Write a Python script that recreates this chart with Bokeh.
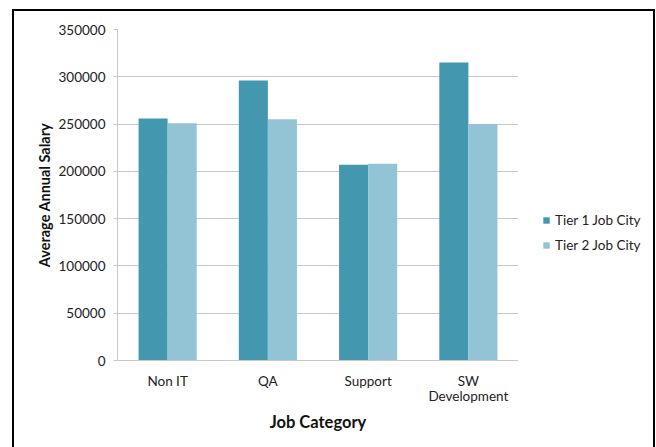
from bokeh.plotting import figure
from bokeh.layouts import row
from bokeh.models import (ColumnDataSource, FactorRange, Range1d, Legend, LegendItem,
                          BasicTickFormatter, FixedTicker, InlineStyleSheet)
from bokeh.transform import dodge
from bokeh.embed import file_html
from bokeh.resources import INLINE

categories = ["Non IT", "QA", "Support", "SW\nDevelopment"]
tier1 = [256000, 296000, 207000, 315000]
tier2 = [251000, 255000, 208000, 250000]
series_names = ["Tier 1 Job City", "Tier 2 Job City"]
y_ticks = [0, 50000, 100000, 150000, 200000, 250000, 300000, 350000]

FONT = "Lato"
C1 = "#4398AF"
C2 = "#93C4D6"

src = ColumnDataSource(dict(cat=categories, t1=tier1, t2=tier2))

p = figure(x_range=FactorRange(*categories), y_range=Range1d(0, 350000),
           width=518, height=447, output_backend="svg", toolbar_location=None,
           min_border_left=117, min_border_right=0, min_border_top=29, min_border_bottom=87)

p.vbar(x=dodge("cat", -0.145, range=p.x_range), top="t1", width=0.29, source=src,
       fill_color=C1, line_color=None)
p.vbar(x=dodge("cat", 0.145, range=p.x_range), top="t2", width=0.29, source=src,
       fill_color=C2, line_color=None)

p.outline_line_color = None
p.xgrid.grid_line_color = None
p.ygrid.grid_line_color = "#c8c8c8"
p.ygrid.grid_line_width = 1

p.yaxis.ticker = FixedTicker(ticks=y_ticks)
p.yaxis.formatter = BasicTickFormatter(use_scientific=False)
p.yaxis.axis_line_color = "#c8c8c8"
p.yaxis.major_tick_line_color = "#c8c8c8"
p.yaxis.major_tick_out = 4
p.yaxis.major_tick_in = 0
p.yaxis.minor_tick_line_color = None
p.yaxis.major_label_standoff = 8
p.yaxis.major_label_text_font = FONT
p.yaxis.major_label_text_font_size = "13.5px"
p.yaxis.major_label_text_color = "#222222"
p.yaxis.axis_label = "Average Annual Salary"
p.yaxis.axis_label_text_font = FONT
p.yaxis.axis_label_text_font_size = "14.5px"
p.yaxis.axis_label_text_font_style = "bold"
p.yaxis.axis_label_text_color = "#111111"
p.yaxis.axis_label_standoff = 3

p.xaxis.axis_line_color = "#c8c8c8"
p.xaxis.major_tick_line_color = None
p.xaxis.minor_tick_line_color = None
p.xaxis.major_label_standoff = 6
p.xaxis.major_label_text_font = FONT
p.xaxis.major_label_text_font_size = "13.5px"
p.xaxis.major_label_text_line_height = 0.95
p.xaxis.major_label_text_color = "#222222"
p.xaxis.axis_label = "Job Category"
p.xaxis.axis_label_text_font = FONT
p.xaxis.axis_label_text_font_size = "16.5px"
p.xaxis.axis_label_text_font_style = "bold"
p.xaxis.axis_label_text_color = "#111111"
p.xaxis.axis_label_standoff = 5

p.stylesheets = [InlineStyleSheet(css=(
    ":host::after { content: ''; position: absolute; left: 12px; top: 9px; "
    "width: 506px; height: 438px; border-left: 2px solid black; border-top: 2px solid black; "
    "box-sizing: border-box; pointer-events: none; }"))]

# legend panel: zero-width copies of the series, out of view, so only the legend swatches show
q = figure(x_range=FactorRange(*categories), y_range=Range1d(-400000, -350000), width=138, height=447,
           output_backend="svg", toolbar_location=None, x_axis_type=None, y_axis_type=None,
           min_border=0)
q.outline_line_color = None
q.xgrid.grid_line_color = None
q.ygrid.grid_line_color = None
l1 = q.vbar(x="cat", top="t1", width=0, source=src, fill_color=C1, line_color=None)
l2 = q.vbar(x="cat", top="t2", width=0, source=src, fill_color=C2, line_color=None)
legend = Legend(items=[LegendItem(label=series_names[0], renderers=[l1]),
                       LegendItem(label=series_names[1], renderers=[l2])],
                location=(24, 107), padding=0, margin=0, spacing=8,
                glyph_width=8, glyph_height=8, label_height=17, label_standoff=5,
                label_text_font=FONT, label_text_font_size="13.5px", label_text_color="#222222",
                border_line_color=None, background_fill_alpha=0)
q.add_layout(legend, "center")
q.stylesheets = [InlineStyleSheet(css=(
    ":host::after { content: ''; position: absolute; left: 0px; top: 9px; "
    "width: 137px; height: 438px; border-right: 2px solid black; border-top: 2px solid black; "
    "box-sizing: border-box; pointer-events: none; }"))]

layout = row(p, q, spacing=0)
open("out.html", "w").write(file_html(layout, INLINE))
